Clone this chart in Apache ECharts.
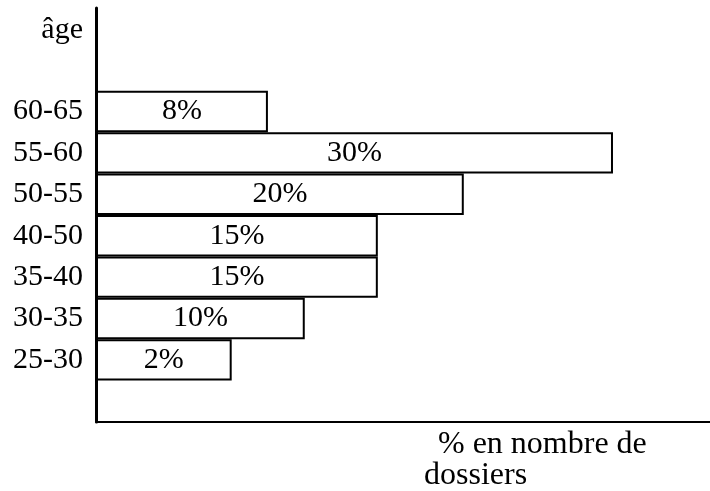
<!DOCTYPE html>
<html>
<head>
<meta charset="utf-8">
<script src="https://cdn.jsdelivr.net/npm/echarts@6/dist/echarts.min.js"></script>
<style>
  html, body { margin: 0; padding: 0; background: #fff; }
  #main { width: 710px; height: 491px; }
</style>
</head>
<body>
<div id="main"></div>
<script>
// tranches d'âge, de bas en haut (cases vides = marges du dessin)
var ages = ['', '25-30', '30-35', '35-40', '40-50', '50-55', '55-60', '60-65', '', ''];
// longueur dessinée des barres (en % de la longueur de l'axe)
var barLength = [null, 22.1, 34.0, 45.9, 45.9, 59.9, 84.2, 28.0, null, null];
// texte écrit dans chaque barre
var pctLabels = ['', '2%', '10%', '15%', '15%', '20%', '30%', '8%', '', ''];

var font = 'Liberation Serif, Times New Roman, serif';
var chart = echarts.init(document.getElementById('main'));

var option = {
  backgroundColor: '#ffffff',
  animation: false,
  grid: { left: 96, right: 0, top: 8, bottom: 69 },
  xAxis: {
    type: 'value',
    min: 0,
    max: 100,
    axisLine: { show: true, lineStyle: { color: '#000', width: 2 } },
    axisTick: { show: false },
    axisLabel: { show: false },
    splitLine: { show: false }
  },
  yAxis: {
    type: 'category',
    data: ages,
    boundaryGap: true,
    name: 'âge',
    nameLocation: 'end',
    nameGap: -22,
    nameTextStyle: {
      fontFamily: font, fontSize: 30, color: '#000',
      align: 'right', verticalAlign: 'middle', padding: [0, 13, 0, 0]
    },
    axisLine: { show: true, lineStyle: { color: '#000', width: 3 } },
    axisTick: { show: false },
    axisLabel: { fontFamily: font, fontSize: 30, color: '#000', margin: 13 },
    splitLine: { show: false }
  },
  series: [{
    type: 'bar',
    data: barLength,
    barCategoryGap: '0%',
    itemStyle: { color: '#fff', borderColor: '#000', borderWidth: 2 },
    label: {
      show: true,
      position: 'inside',
      fontFamily: font,
      fontSize: 30,
      color: '#000',
      formatter: function (p) { return pctLabels[p.dataIndex]; }
    }
  }],
  graphic: [
    { type: 'text', left: 438, top: 429,
      style: { text: '% en nombre de', font: '32px ' + font, fill: '#000' } },
    { type: 'text', left: 424, top: 460,
      style: { text: 'dossiers', font: '32px ' + font, fill: '#000' } }
  ]
};

chart.setOption(option);
</script>
</body>
</html>
